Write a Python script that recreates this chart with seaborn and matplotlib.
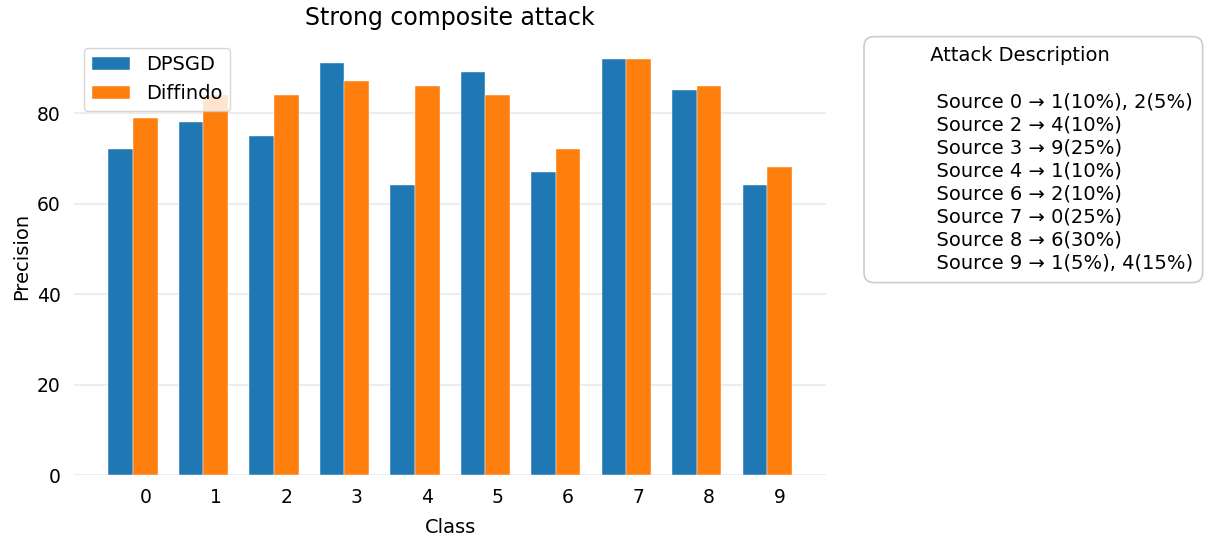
import numpy as np
import matplotlib
matplotlib.use("Agg")
import matplotlib.pyplot as plt
import seaborn as sns

# Per-class precision for the two training methods
classes = ["0", "1", "2", "3", "4", "5", "6", "7", "8", "9"]
dpsgd = [72, 78, 75, 91, 64, 89, 67, 92, 85, 64]
diffindo = [79, 84, 84, 87, 86, 84, 72, 92, 86, 68]

method_names = ["DPSGD", "Diffindo"]

# Label-flipping rules applied in the composite attack
attack_title = "Attack Description"
attack_rules = [
    "Source 0 \u2192 1(10%), 2(5%)",
    "Source 2 \u2192 4(10%)",
    "Source 3 \u2192 9(25%)",
    "Source 4 \u2192 1(10%)",
    "Source 6 \u2192 2(10%)",
    "Source 7 \u2192 0(25%)",
    "Source 8 \u2192 6(30%)",
    "Source 9 \u2192 1(5%), 4(15%)",
]

sns.set_theme(style="whitegrid")
plt.rcParams["font.family"] = ["DejaVu Sans"]
plt.rcParams.update({
    "text.color": "black",
    "axes.labelcolor": "black",
    "xtick.color": "black",
    "ytick.color": "black",
})
palette = sns.color_palette("tab10")

fig = plt.figure(figsize=(12.06, 5.39), dpi=100)
ax = fig.add_axes([0.0614, 0.1187, 0.6236, 0.8108])

x = np.arange(len(classes))
width = 0.35
ax.bar(x, dpsgd, width, label=method_names[0], color=palette[0],
       edgecolor="white", linewidth=0.3)
ax.bar(x + width, diffindo, width, label=method_names[1], color=palette[1],
       edgecolor="white", linewidth=0.3)

ax.set_xticks(x + width)
ax.set_xticklabels(classes, fontsize=13.5)
ax.tick_params(axis="y", labelsize=13.5)
ax.set_yticks([0, 20, 40, 60, 80])
ax.set_xlabel("Class", fontsize=14, labelpad=8)
ax.set_ylabel("Precision", fontsize=14)
ax.set_title("Strong composite attack", fontsize=17, pad=9)

ax.grid(axis="x", visible=False)
ax.grid(axis="y", color="#e8e8e8", linewidth=1.1)
ax.set_axisbelow(True)
sns.despine(ax=ax, left=True, bottom=True)

ax.legend(loc="upper left", fontsize=14, framealpha=0.8,
          bbox_to_anchor=(0.0, 1.0))

desc = " " * 9 + attack_title + "\n\n" + "\n".join(" " * 10 + r for r in attack_rules)
fig.text(0.7245, 0.914, desc, fontsize=14, ha="left", va="top",
         linespacing=1.27,
         bbox=dict(boxstyle="round,pad=0.5", facecolor="white",
                   edgecolor="#cccccc", linewidth=1.2))

fig.savefig("out.png", dpi=100)
